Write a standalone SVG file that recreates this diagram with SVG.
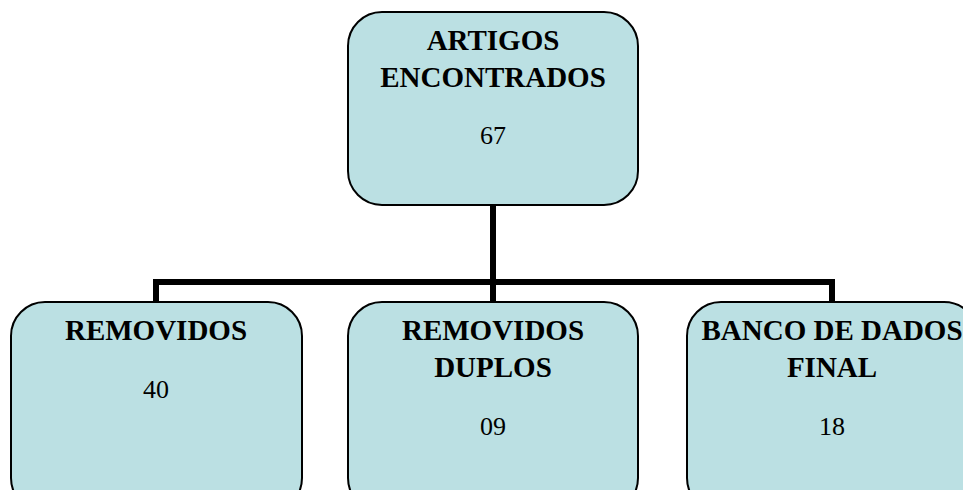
<svg xmlns="http://www.w3.org/2000/svg" width="963" height="490" viewBox="0 0 963 490">
<style>
.box{fill:#BBE0E3;stroke:#000;stroke-width:2}
.t{font-family:"Liberation Serif","Times New Roman",serif;font-weight:bold;font-size:29px;text-anchor:middle;fill:#000}
.n{font-family:"Liberation Serif","Times New Roman",serif;font-size:26px;text-anchor:middle;fill:#000}
.c{fill:none;stroke:#000;stroke-width:6;stroke-linejoin:miter}
</style>
<rect width="963" height="490" fill="#fff"/>
<g id="connectors">
<path class="c" d="M493,205 V282 M156,302 V282 H832 V302 M493,282 V302"/>
</g>
<g id="node-artigos">
<rect class="box" x="348" y="12" width="290" height="193" rx="34"/>
<text class="t" x="493" y="50">ARTIGOS</text>
<text class="t" x="493" y="87">ENCONTRADOS</text>
<text class="n" x="493" y="144">67</text>
</g>
<g id="node-removidos">
<rect class="box" x="11" y="302" width="291" height="210" rx="34"/>
<text class="t" x="156" y="340">REMOVIDOS</text>
<text class="n" x="156" y="398">40</text>
</g>
<g id="node-duplos">
<rect class="box" x="348" y="302" width="290" height="210" rx="34"/>
<text class="t" x="493" y="340">REMOVIDOS</text>
<text class="t" x="493" y="377">DUPLOS</text>
<text class="n" x="493" y="435">09</text>
</g>
<g id="node-final">
<rect class="box" x="687" y="302" width="291" height="210" rx="34"/>
<text class="t" x="832" y="340">BANCO DE DADOS</text>
<text class="t" x="832" y="377">FINAL</text>
<text class="n" x="832" y="435">18</text>
</g>
</svg>
